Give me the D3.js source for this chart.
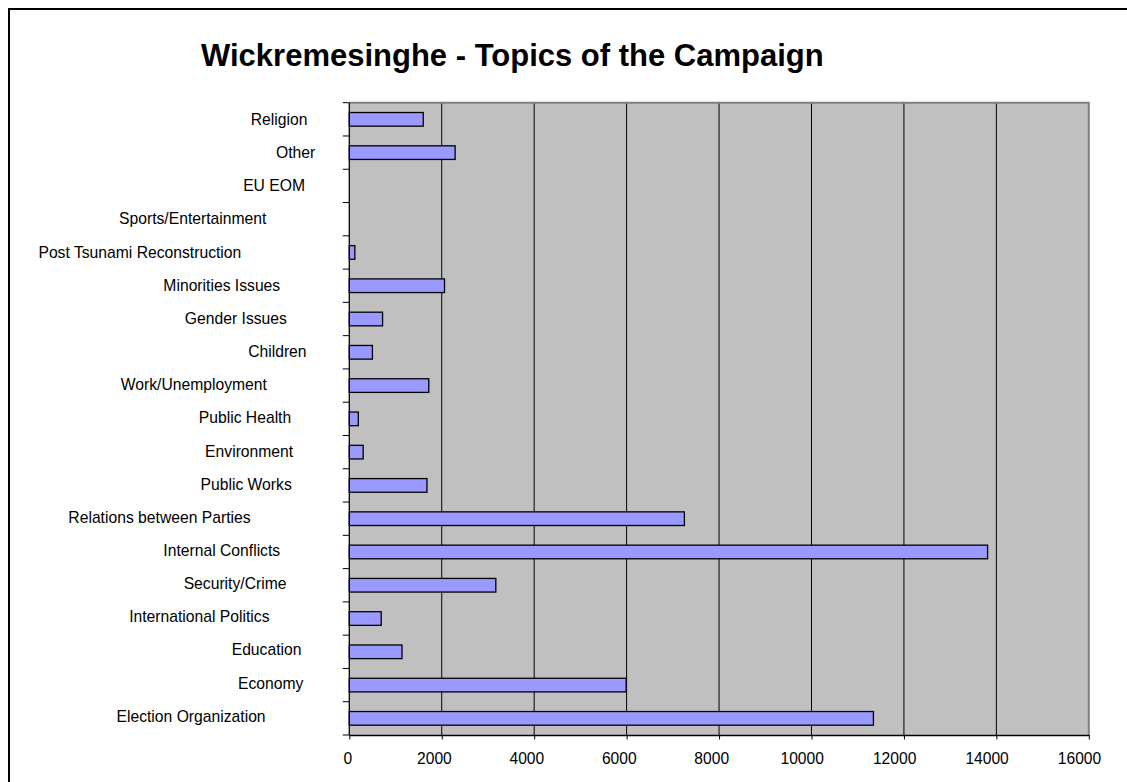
<!DOCTYPE html>
<html>
<head>
<meta charset="utf-8">
<script src="https://cdn.jsdelivr.net/npm/d3@7"></script>
<style>
  html, body { margin: 0; padding: 0; background: #fff; }
  svg { display: block; }
  text { font-family: "Liberation Sans", Arial, sans-serif; fill: #000; }
</style>
</head>
<body>
<svg id="chart" width="1127" height="782"></svg>
<script>
const titleText = "Wickremesinghe - Topics of the Campaign";
const categories = [
  "Religion", "Other", "EU EOM", "Sports/Entertainment", "Post Tsunami Reconstruction",
  "Minorities Issues", "Gender Issues", "Children", "Work/Unemployment", "Public Health",
  "Environment", "Public Works", "Relations between Parties", "Internal Conflicts",
  "Security/Crime", "International Politics", "Education", "Economy", "Election Organization"
];
const values = [
  1600, 2290, 0, 0, 120,
  2060, 720, 500, 1720, 195,
  300, 1680, 7250, 13810,
  3170, 690, 1140, 5990, 11340
];
const xTicks = [0, 2000, 4000, 6000, 8000, 10000, 12000, 14000, 16000];

const svg = d3.select("#chart");
const W = 1127, H = 782;
const plot = { left: 349.3, right: 1088.8, top: 102.7, bottom: 735 };
const stretch = 1.452; // original text-width factor of the source rendering

svg.append("rect").attr("width", W).attr("height", H).attr("fill", "#fff");
// outer frame
svg.append("rect").attr("x", 9).attr("y", 9).attr("width", 1300).attr("height", 1000)
  .attr("fill", "none").attr("stroke", "#000").attr("stroke-width", 2);

const x = d3.scaleLinear().domain([0, 16000]).range([plot.left, plot.right]);
const y = d3.scaleBand().domain(categories).range([plot.top, plot.bottom])
  .paddingInner(0.59).paddingOuter(0.295);
const yLab = d3.scalePoint().domain(categories).range([125, 721.7]);

// plot background
svg.append("rect").attr("x", plot.left).attr("y", plot.top)
  .attr("width", plot.right - plot.left).attr("height", plot.bottom - plot.top)
  .attr("fill", "#c0c0c0");

// gridlines
svg.append("g").selectAll("line").data(xTicks.slice(1, -1)).join("line")
  .attr("x1", d => x(d)).attr("x2", d => x(d))
  .attr("y1", plot.top).attr("y2", plot.bottom)
  .attr("stroke", "#000").attr("stroke-width", 1);

// plot border (top & right)
svg.append("path")
  .attr("d", `M${plot.left},${plot.top}H${plot.right}V${plot.bottom}`)
  .attr("fill", "none").attr("stroke", "#808080").attr("stroke-width", 2);

// bars
svg.append("g").selectAll("rect").data(categories).join("rect")
  .attr("x", x(0))
  .attr("y", d => y(d))
  .attr("width", (d, i) => x(values[i]) - x(0))
  .attr("height", y.bandwidth())
  .attr("fill", (d, i) => values[i] > 0 ? "#9999ff" : "none")
  .attr("stroke", (d, i) => values[i] > 0 ? "#000" : "none")
  .attr("stroke-width", 1.3);

// x axis
const xAxis = svg.append("g").attr("transform", `translate(0,${plot.bottom})`)
  .call(d3.axisBottom(x).tickValues(xTicks).tickSize(4.5).tickSizeOuter(0).tickFormat(d3.format("d")));
xAxis.select(".domain").attr("stroke", "#000").attr("stroke-width", 1.3);
xAxis.selectAll(".tick line").attr("stroke", "#000");
xAxis.selectAll(".tick text")
  .attr("font-family", "Liberation Sans, Arial, sans-serif")
  .attr("font-size", "15.6px")
  .attr("fill", "#000")
  .attr("text-anchor", "start")
  .attr("dy", null)
  .attr("y", 764 - plot.bottom)
  .each(function () {
    const w = this.getComputedTextLength();
    d3.select(this).attr("x", -stretch * w / 2);
  });

// y axis line + boundary ticks
const yAxis = svg.append("g");
yAxis.append("line").attr("x1", plot.left).attr("x2", plot.left)
  .attr("y1", plot.top).attr("y2", plot.bottom)
  .attr("stroke", "#000").attr("stroke-width", 1.3);
const bounds = d3.range(categories.length + 1).map(i => plot.top + i * y.step());
yAxis.selectAll("line.tk").data(bounds).join("line").attr("class", "tk")
  .attr("x1", plot.left - 6.5).attr("x2", plot.left)
  .attr("y1", d => d).attr("y2", d => d)
  .attr("stroke", "#000").attr("stroke-width", 1);

// category labels
svg.append("g").selectAll("text").data(categories).join("text")
  .attr("font-size", "15.7px")
  .attr("y", d => yLab(d))
  .text(d => d)
  .each(function () {
    const w = this.getComputedTextLength();
    d3.select(this).attr("x", 333 - stretch * w);
  });

// title
svg.append("text")
  .attr("x", 201).attr("y", 66)
  .attr("font-size", "31px").attr("font-weight", "bold")
  .text(titleText);
</script>
</body>
</html>
